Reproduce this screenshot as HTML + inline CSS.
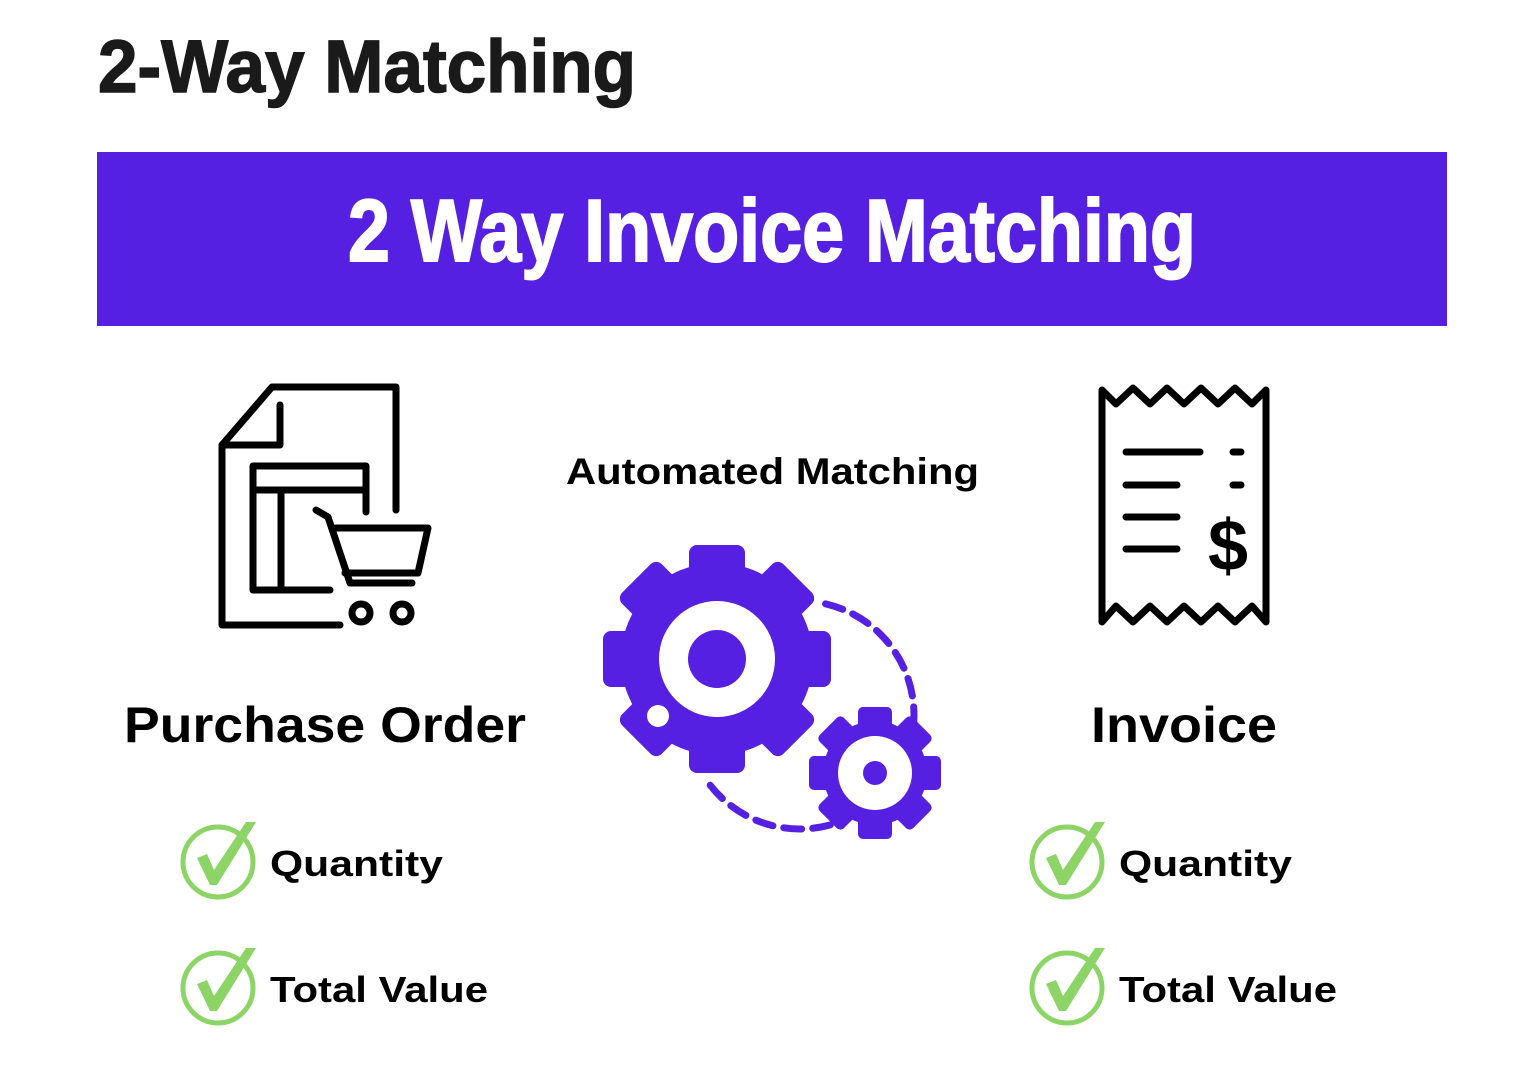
<!DOCTYPE html>
<html><head><meta charset="utf-8"><style>
html,body{margin:0;padding:0;background:#fff;}
svg{display:block;}
text{font-family:"Liberation Sans","DejaVu Sans",sans-serif;font-weight:bold;}
</style></head><body>
<svg width="1518" height="1082" viewBox="0 0 1518 1082" xmlns="http://www.w3.org/2000/svg">
<rect width="1518" height="1082" fill="#fff"/>
<text x="98" y="92" font-size="74" fill="#1a1a1a" stroke="#1a1a1a" stroke-width="1.5" textLength="538" lengthAdjust="spacingAndGlyphs">2-Way Matching</text>
<rect x="97" y="152" width="1350" height="174" fill="#5620E2"/>
<text x="348" y="261" font-size="88" fill="#fff" stroke="#fff" stroke-width="2" textLength="848" lengthAdjust="spacingAndGlyphs">2 Way Invoice Matching</text>

<!-- PO icon -->
<g fill="none" stroke="#000" stroke-width="7" stroke-linecap="round" stroke-linejoin="round">
<path d="M340,625 L222,625 L222,445 L272,387 L396,387 L396,510"/>
<path d="M280,405 L280,445 L222,445"/>
<path d="M330,590 L253,590 L253,466 L366,466 L366,512"/>
<path d="M253,490 L366,490"/>
<path d="M281,490 L281,590"/>
<path d="M316,510 L328,517 L350,583 L412,583"/>
<path d="M336,528 L428,528 L418,573 L345,573"/>
<circle cx="361" cy="613" r="9"/>
<circle cx="402" cy="613" r="9"/>
</g>

<!-- Receipt icon -->
<g fill="none" stroke="#000" stroke-width="7" stroke-linecap="round" stroke-linejoin="round">
<path d="M1102,390 L1116,404 L1133,388 L1150,404 L1167,388 L1184,404 L1201,388 L1218,404 L1235,388 L1252,404 L1266,390 L1266,622 L1252,606 L1235,622 L1218,606 L1201,622 L1184,606 L1167,622 L1150,606 L1133,622 L1116,606 L1102,622 Z"/>
<path d="M1126,452 L1200,452 M1126,485 L1177,485 M1126,517 L1177,517 M1126,549 L1177,549 M1233,452 L1241,452 M1233,485 L1241,485"/>
</g>
<text x="1228" y="570" font-size="72" fill="#000" text-anchor="middle">$</text>

<text x="566" y="484" font-size="37" fill="#000" textLength="413" lengthAdjust="spacingAndGlyphs">Automated Matching</text>
<text x="124" y="742" font-size="50" fill="#000" textLength="402" lengthAdjust="spacingAndGlyphs">Purchase Order</text>
<text x="1091" y="742" font-size="50" fill="#000" textLength="186" lengthAdjust="spacingAndGlyphs">Invoice</text>

<!-- dashed arcs -->
<g fill="none" stroke="#5620E2" stroke-width="7" stroke-dasharray="18 11" stroke-linecap="round">
<path d="M825.6,603.9 A114,114 0 0 1 907.1,754"/>
<path d="M857,813.7 A114,114 0 0 1 706.6,780.4"/>
</g>

<!-- big gear -->
<g transform="translate(717,659)" fill="#5620E2">
<circle r="96"/>
<g id="t1"><rect x="-28" y="-114" width="56" height="40" rx="8"/></g>
<use href="#t1" transform="rotate(45)"/>
<use href="#t1" transform="rotate(90)"/>
<use href="#t1" transform="rotate(135)"/>
<use href="#t1" transform="rotate(180)"/>
<use href="#t1" transform="rotate(225)"/>
<use href="#t1" transform="rotate(270)"/>
<use href="#t1" transform="rotate(315)"/>
<circle r="58" fill="#fff"/>
<circle r="29"/>
<circle cx="-59" cy="57" r="11" fill="#fff"/>
</g>

<!-- small gear -->
<g transform="translate(875,773)">
<circle r="62" fill="#fff"/>
<g fill="#5620E2">
<circle r="52"/>
<g id="t2"><rect x="-17" y="-66" width="34" height="26" rx="5"/></g>
<use href="#t2" transform="rotate(45)"/>
<use href="#t2" transform="rotate(90)"/>
<use href="#t2" transform="rotate(135)"/>
<use href="#t2" transform="rotate(180)"/>
<use href="#t2" transform="rotate(225)"/>
<use href="#t2" transform="rotate(270)"/>
<use href="#t2" transform="rotate(315)"/>
<circle r="37" fill="#fff"/>
<circle r="12"/>
</g>
</g>

<!-- check items -->
<g id="ck">
<circle cx="218" cy="862" r="35" fill="none" stroke="#8DD467" stroke-width="5"/>
<path d="M197,858 L207,854 L214,870 L246,822 L256,822 L217,885 L210,885 Z" fill="#8DD467"/>
</g>
<use href="#ck" transform="translate(0,126)"/>
<use href="#ck" transform="translate(849,0)"/>
<use href="#ck" transform="translate(849,126)"/>

<text x="270" y="876" font-size="36" fill="#000" textLength="173" lengthAdjust="spacingAndGlyphs">Quantity</text>
<text x="270" y="1002" font-size="36" fill="#000" textLength="218" lengthAdjust="spacingAndGlyphs">Total Value</text>
<text x="1119" y="876" font-size="36" fill="#000" textLength="173" lengthAdjust="spacingAndGlyphs">Quantity</text>
<text x="1119" y="1002" font-size="36" fill="#000" textLength="218" lengthAdjust="spacingAndGlyphs">Total Value</text>
</svg>
</body></html>
